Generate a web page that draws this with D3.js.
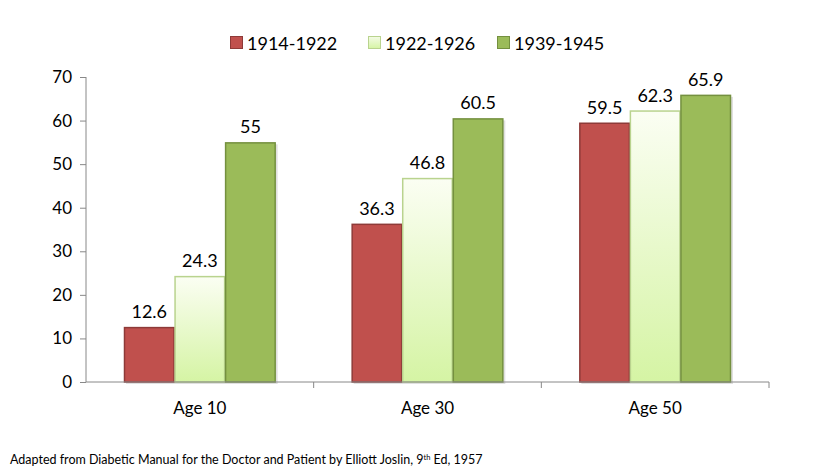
<!DOCTYPE html>
<html><head><meta charset="utf-8">
<script src="https://cdn.jsdelivr.net/npm/d3@7"></script>
<style>body{margin:0;background:#fff}svg{display:block}text{font-family:Lato,"Open Sans",sans-serif;fill:#000}</style>
</head><body><svg id="c" width="813" height="470"></svg>
<script>
const categories = ["Age 10", "Age 30", "Age 50"];
const series = ["1914-1922", "1922-1926", "1939-1945"];
const values1914 = [12.6, 36.3, 59.5];
const values1922 = [24.3, 46.8, 62.3];
const values1939 = [55, 60.5, 65.9];
const yTicks = [0, 10, 20, 30, 40, 50, 60, 70];
const footnote = ["Adapted from Diabetic Manual for the Doctor and Patient by Elliott Joslin, 9", "th", " Ed, 1957"];

const data = [values1914, values1922, values1939];
const svg = d3.select("#c");
const defs = svg.append("defs");
const grad = defs.append("linearGradient").attr("id","lg").attr("x1",0).attr("y1",0).attr("x2",0).attr("y2",1);
grad.append("stop").attr("offset","0%").attr("stop-color","#FBFEF3");
grad.append("stop").attr("offset","100%").attr("stop-color","#D5F4A4");
const lgrad = defs.append("linearGradient").attr("id","lgl").attr("x1",0).attr("y1",0).attr("x2",0).attr("y2",1);
lgrad.append("stop").attr("offset","0%").attr("stop-color","#F4FBE6");
lgrad.append("stop").attr("offset","100%").attr("stop-color","#D5F4A4");
const fills = ["#C0504D", "url(#lg)", "#9BBB59"];
const legFills = ["#C0504D", "url(#lgl)", "#9BBB59"];
const strokes = ["#8E3A38", "#B9D38E", "#74903F"];

const x = d3.scaleBand().domain(categories).range([86, 769]);
const xs = d3.scaleBand().domain(series).range([38, x.bandwidth() - 38]);
const y = d3.scaleLinear().domain([0, 70]).range([382, 77]);

// y axis
const ya = svg.append("g").attr("transform","translate(86,0)")
  .call(d3.axisLeft(y).tickValues(yTicks).tickSize(6).tickPadding(8));
ya.select(".domain").attr("stroke","#888").attr("d","M0,77V382");
ya.selectAll(".tick line").attr("stroke","#888");
ya.selectAll(".tick text").style("font-size","17px").style("font-family","Lato,sans-serif").attr("fill","#000");

// bars
categories.forEach((c, ci) => {
  series.forEach((s, si) => {
    const v = data[si][ci];
    const bx = x(c) + xs(s);
    svg.append("rect").attr("x", bx + 2).attr("y", y(v) + 2).attr("width", xs.bandwidth()).attr("height", y(0) - y(v))
      .attr("fill","rgba(0,0,0,0.12)");
    svg.append("rect").attr("x", bx + 0.5).attr("y", y(v) + 0.5).attr("width", xs.bandwidth() - 1).attr("height", y(0) - y(v) - 0.5)
      .attr("fill", fills[si]).attr("stroke", strokes[si]).attr("stroke-width", 1.5);
    svg.append("text").attr("x", bx + xs.bandwidth()/2).attr("y", y(v) - 9)
      .attr("text-anchor","middle").style("font-size","18px").text(v);
  });
});

// x axis
const xa = svg.append("g").attr("transform","translate(0,382)")
  .call(d3.axisBottom(x).tickSize(0).tickPadding(20));
xa.select(".domain").attr("stroke","#888").attr("d","M86,0H769");
xa.selectAll(".tick text").style("font-size","17px").style("font-family","Lato,sans-serif").attr("fill","#000").attr("dy","0.71em");
const edges = categories.map(c => x(c)).concat([x(categories[categories.length-1]) + x.bandwidth()]).slice(1);
svg.append("g").selectAll("line").data(edges).join("line")
  .attr("x1", d => d).attr("x2", d => d).attr("y1", 382).attr("y2", 388).attr("stroke","#888");

// legend
const legX = [230, 368, 497];
series.forEach((s, i) => {
  svg.append("rect").attr("x", legX[i] + 0.5).attr("y", 36.5).attr("width", 12).attr("height", 12)
    .attr("fill", legFills[i]).attr("stroke", strokes[i]);
  svg.append("text").attr("x", legX[i] + 17).attr("y", 49.5).style("font-size","18px").text(s);
});

// footnote
const ft = svg.append("text").attr("x", 10).attr("y", 464).style("font-size","12.5px");
ft.append("tspan").text(footnote[0]);
ft.append("tspan").attr("dy", -4).style("font-size","7.5px").text(footnote[1]);
ft.append("tspan").attr("dy", 4).text(footnote[2]);
</script></body></html>
